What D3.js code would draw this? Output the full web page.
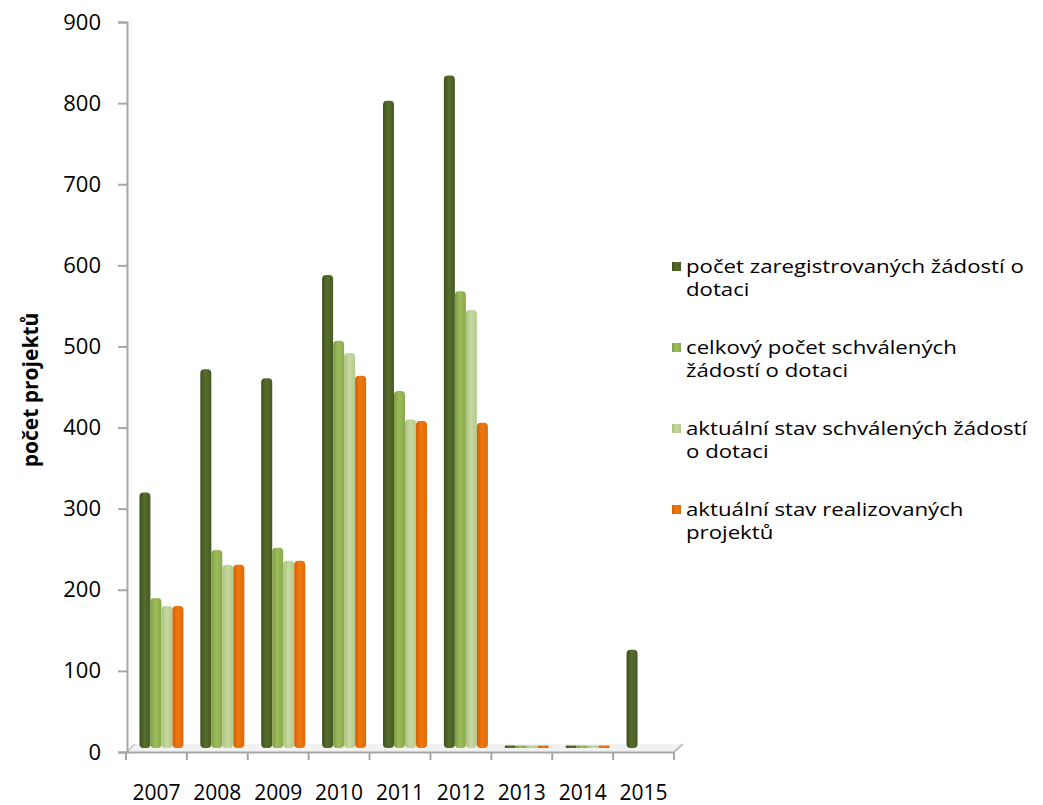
<!DOCTYPE html>
<html>
<head>
<meta charset="utf-8">
<script src="https://cdn.jsdelivr.net/npm/d3@7"></script>
<style>
  html, body { margin: 0; padding: 0; background: #fff; }
  svg { display: block; font-family: "Open Sans", sans-serif; }
</style>
</head>
<body>
<svg id="chart" width="1043" height="805"></svg>
<script>
(function() {

  'use strict';

  /**
   * data
   *
   * @description Values
   */
  var years = ['2007', '2008', '2009', '2010', '2011', '2012', '2013', '2014', '2015'];
  var registered = [315, 467, 456, 583, 798, 829, 3, 3, 121];
  var approvedTotal = [185, 244, 247, 502, 440, 563, 3, 3, 0];
  var approvedNow = [175, 226, 231, 487, 405, 540, 3, 3, 0];
  var realized = [175, 226, 231, 459, 403, 401, 3, 3, 0];
  var yTicks = [0, 100, 200, 300, 400, 500, 600, 700, 800, 900];

  var seriesNames = [
    ['počet zaregistrovaných žádostí o', 'dotaci'],
    ['celkový počet schválených', 'žádostí o dotaci'],
    ['aktuální stav schválených žádostí', 'o dotaci'],
    ['aktuální stav realizovaných', 'projektů']
  ];
  var seriesValues = [registered, approvedTotal, approvedNow, realized];

  // left edge, middle, right edge of each cylinder
  var colours = [
    ['#3e4f1e', '#566d2c', '#485b24'],
    ['#7f9c43', '#9dbd5b', '#8aa84d'],
    ['#a9c07d', '#c6d9a0', '#b4ca8b'],
    ['#d35f05', '#f0780f', '#e06a08']
  ];

  var svg = d3.select('#chart');
  var depth = 4;

  /**
   * scales
   */
  var y = d3.scaleLinear().domain([0, 900]).range([752, 22]);
  var x = d3.scaleBand().domain(years).range([126, 674]);
  var inner = d3.scaleBand().domain(d3.range(4)).range([0, 44]);

  var defs = svg.append('defs');
  colours.forEach(function(c, i) {
    var g = defs.append('linearGradient').attr('id', 'g' + i)
      .attr('x1', '0%').attr('x2', '100%').attr('y1', '0%').attr('y2', '0%');
    g.append('stop').attr('offset', '0%').attr('stop-color', c[0]);
    g.append('stop').attr('offset', '45%').attr('stop-color', c[1]);
    g.append('stop').attr('offset', '100%').attr('stop-color', c[2]);
  });

  /**
   * walls and floor
   */
  var axisGrey = '#a6a6a6';
  svg.append('line')
    .attr('x1', 127 + depth).attr('x2', 127 + depth)
    .attr('y1', y(900) - depth).attr('y2', y(0) - depth)
    .attr('stroke', '#ececec').attr('stroke-width', 1);

  svg.append('path')
    .attr('d', 'M' + 127 + ',' + y(0) + 'L' + (127 + 8) + ',' + (y(0) - 8) +
      'L' + (674 + 8) + ',' + (y(0) - 8) + 'L' + 674 + ',' + y(0) + 'Z')
    .attr('fill', '#f2f2f2').attr('stroke', 'none');
  svg.append('path')
    .attr('d', 'M' + 127 + ',' + y(0) + 'L' + (127 + 8) + ',' + (y(0) - 8))
    .attr('stroke', '#bfbfbf').attr('stroke-width', 1.5).attr('fill', 'none');
  svg.append('path')
    .attr('d', 'M' + 674 + ',' + y(0) + 'L' + (674 + 9) + ',' + (y(0) - 8))
    .attr('stroke', '#bfbfbf').attr('stroke-width', 2).attr('fill', 'none');

  /**
   * bars
   */
  var groups = svg.append('g').selectAll('g')
    .data(years)
    .enter().append('g')
    .attr('transform', function(d) {
      return 'translate(' + (x(d) + depth + x.bandwidth() / 2 - 21) + ',0)';
    });

  groups.selectAll('rect')
    .data(function(d, i) {
      return seriesValues.map(function(s, k) { return { k: k, v: s[i] }; });
    })
    .enter().filter(function(d) { return d.v > 0; })
    .append('rect')
    .attr('x', function(d) { return inner(d.k); })
    .attr('width', inner.bandwidth())
    .attr('y', function(d) { return y(d.v) - depth; })
    .attr('height', function(d) { return y(0) - y(d.v); })
    .attr('rx', function(d) { return d.v > 10 ? 4 : 1; })
    .attr('fill', function(d) { return 'url(#g' + d.k + ')'; });

  /**
   * axes
   */
  var yAxis = svg.append('g').attr('transform', 'translate(127,0)')
    .call(d3.axisLeft(y).tickValues(yTicks).tickSize(9).tickPadding(17));
  yAxis.select('.domain').attr('stroke', axisGrey).attr('stroke-width', 2);
  yAxis.selectAll('.tick line').attr('stroke', axisGrey).attr('stroke-width', 2);
  yAxis.selectAll('.tick text')
    .attr('fill', '#000').style('font-size', '22px')
    .style('font-family', '"Open Sans", sans-serif');

  var xAxis = svg.append('g').attr('transform', 'translate(0,' + y(0) + ')')
    .call(d3.axisBottom(x).tickSize(0).tickPadding(33));
  xAxis.select('.domain').attr('stroke', axisGrey).attr('stroke-width', 2);
  xAxis.selectAll('.tick text')
    .attr('fill', '#000').style('font-size', '21px')
    .style('font-family', '"Open Sans", sans-serif');

  // category boundary ticks
  xAxis.append('g').selectAll('line')
    .data(years.concat(['end']))
    .enter().append('line')
    .attr('x1', function(d, i) { return x.range()[0] + i * x.step(); })
    .attr('x2', function(d, i) { return x.range()[0] + i * x.step(); })
    .attr('y1', 0).attr('y2', 8)
    .attr('stroke', axisGrey).attr('stroke-width', 2);

  svg.append('text')
    .attr('transform', 'translate(30,' + 390 + ') rotate(-90)')
    .attr('text-anchor', 'middle')
    .attr('dominant-baseline', 'central')
    .style('font-size', '21px').style('font-weight', 'bold')
    .text('počet projektů');

  /**
   * legend
   */
  var legend = svg.append('g').selectAll('g')
    .data(seriesNames)
    .enter().append('g')
    .attr('transform', function(d, i) { return 'translate(672,' + (266 + i * 81) + ')'; });

  legend.append('rect')
    .attr('x', 0).attr('y', -4).attr('width', 9).attr('height', 9)
    .attr('fill', function(d, i) { return 'url(#g' + i + ')'; });

  legend.append('text')
    .attr('transform', 'translate(14,0) scale(1.17,1)')
    .style('font-size', '19px')
    .selectAll('tspan')
    .data(function(d) { return d; })
    .enter().append('tspan')
    .attr('x', 0)
    .attr('y', function(d, i) { return i * 23 + 7; })
    .text(function(d) { return d; });

})();
</script>
</body>
</html>
